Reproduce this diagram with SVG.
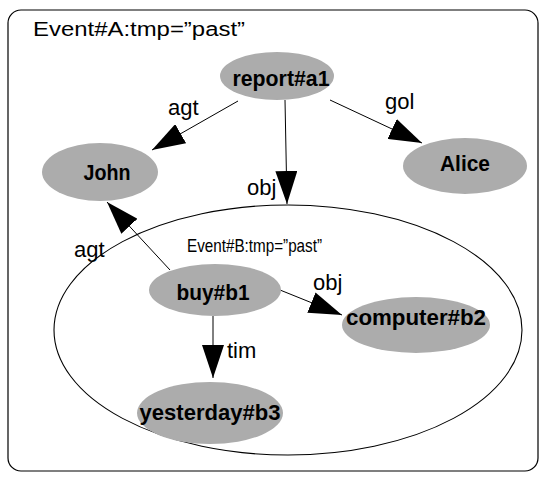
<svg xmlns="http://www.w3.org/2000/svg" width="545" height="477" viewBox="0 0 545 477">
  <style>
    .frame { fill: #ffffff; stroke: #000000; stroke-width: 1.2; }
    .node ellipse { fill: #acacac; stroke: none; }
    .node text { font-family: "Liberation Sans", Arial, sans-serif; font-weight: bold; font-size: 22px; fill: #000000; text-anchor: middle; }
    .scope { fill: none; stroke: #000000; stroke-width: 1.1; }
    .title { font-family: "Liberation Sans", Arial, sans-serif; font-size: 20px; fill: #000000; }
    .subtitle { font-family: "Liberation Sans", Arial, sans-serif; font-size: 19px; fill: #000000; }
    .edge { stroke: #000000; stroke-width: 1; fill: none; marker-end: url(#arrow); }
    .lbl { font-family: "Liberation Sans", Arial, sans-serif; font-size: 22px; fill: #000000; }
  </style>
  <defs>
    <marker id="arrow" viewBox="0 0 33 22" refX="33" refY="11" markerWidth="33" markerHeight="22" markerUnits="userSpaceOnUse" orient="auto">
      <path d="M0,0 L33,11 L0,22 z" fill="#000000"/>
    </marker>
  </defs>

  <!-- outer event frame -->
  <rect class="frame" x="8" y="10" width="530" height="461" rx="13" ry="13"/>
  <text class="title" x="33" y="36" textLength="212" lengthAdjust="spacingAndGlyphs">Event#A:tmp=”past”</text>

  <!-- nested event scope -->
  <g id="eventB">
    <ellipse class="scope" cx="288" cy="330" rx="234" ry="125"/>
    <text class="subtitle" x="187" y="252" textLength="135" lengthAdjust="spacingAndGlyphs">Event#B:tmp=”past”</text>
  </g>

  <!-- connectors -->
  <g id="edges">
    <line class="edge" x1="238" y1="101" x2="152" y2="150"/>
    <line class="edge" x1="330" y1="100" x2="422" y2="143"/>
    <line class="edge" x1="285" y1="100" x2="287" y2="204"/>
    <line class="edge" x1="170" y1="270" x2="107" y2="202"/>
    <line class="edge" x1="280" y1="290" x2="342" y2="315"/>
    <line class="edge" x1="213" y1="316" x2="213" y2="378"/>
    <text class="lbl" x="168" y="115">agt</text>
    <text class="lbl" x="385" y="109">gol</text>
    <text class="lbl" x="247" y="195">obj</text>
    <text class="lbl" x="74" y="257">agt</text>
    <text class="lbl" x="313" y="290">obj</text>
    <text class="lbl" x="227" y="358">tim</text>
  </g>

  <!-- nodes -->
  <g id="report" class="node">
    <ellipse cx="277" cy="76" rx="57" ry="24"/>
    <text x="281" y="86" textLength="97" lengthAdjust="spacingAndGlyphs">report#a1</text>
  </g>
  <g id="john" class="node">
    <ellipse cx="100" cy="172" rx="58" ry="29"/>
    <text x="107" y="180" textLength="47" lengthAdjust="spacingAndGlyphs">John</text>
  </g>
  <g id="alice" class="node">
    <ellipse cx="465" cy="166" rx="62" ry="28"/>
    <text x="465" y="171" textLength="50" lengthAdjust="spacingAndGlyphs">Alice</text>
  </g>
  <g id="buy" class="node">
    <ellipse cx="215" cy="290" rx="66" ry="26"/>
    <text x="213" y="300" textLength="73" lengthAdjust="spacingAndGlyphs">buy#b1</text>
  </g>
  <g id="computer" class="node">
    <ellipse cx="416" cy="325" rx="74" ry="28"/>
    <text x="416" y="325" textLength="140" lengthAdjust="spacingAndGlyphs">computer#b2</text>
  </g>
  <g id="yesterday" class="node">
    <ellipse cx="210" cy="413" rx="73" ry="31"/>
    <text x="210" y="420" textLength="141" lengthAdjust="spacingAndGlyphs">yesterday#b3</text>
  </g>
</svg>
